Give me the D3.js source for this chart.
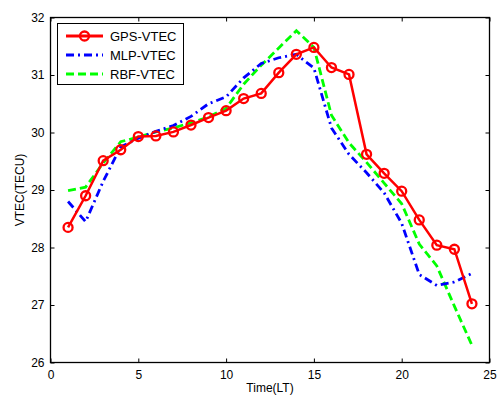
<!DOCTYPE html>
<html><head><meta charset="utf-8">
<script src="https://cdn.jsdelivr.net/npm/d3@7"></script>
<style>body{margin:0;background:#fff}svg{display:block}</style>
</head><body>
<svg id="c" width="497" height="396"></svg>
<script>
const hours = [1,2,3,4,5,6,7,8,9,10,11,12,13,14,15,16,17,18,19,20,21,22,23,24];
const gpsVtec = [28.35,28.90,29.51,29.70,29.93,29.94,30.01,30.13,30.26,30.38,30.59,30.68,31.04,31.36,31.48,31.13,31.01,29.62,29.29,28.98,28.48,28.04,27.97,27.02];
const mlpVtec = [28.80,28.45,29.15,29.75,29.90,30.02,30.12,30.28,30.50,30.62,30.95,31.20,31.30,31.36,31.12,30.08,29.62,29.30,28.95,28.42,27.53,27.34,27.40,27.55];
const rbfVtec = [28.99,29.05,29.47,29.84,29.92,30.01,30.08,30.17,30.27,30.42,30.84,31.17,31.47,31.77,31.48,30.30,29.82,29.48,29.12,28.76,28.06,27.68,26.98,26.30];
const xTicks = [0,5,10,15,20,25];
const yTicks = [26,27,28,29,30,31,32];
const seriesNames = ["GPS-VTEC","MLP-VTEC","RBF-VTEC"];

const svg = d3.select("#c");
const L=50.5, R=489.5, T=17.5, B=362.5;
const x = d3.scaleLinear().domain([0,25]).range([L,R]);
const y = d3.scaleLinear().domain([26,32]).range([B,T]);
const font = "Arial, 'Liberation Sans', sans-serif";

// axes with inward ticks
const gx = svg.append("g").attr("transform",`translate(0,${B})`)
  .call(d3.axisBottom(x).tickValues(xTicks).tickSize(-4).tickPadding(8).tickFormat(d3.format("d")));
const gxt = svg.append("g").attr("transform",`translate(0,${T})`)
  .call(d3.axisTop(x).tickValues(xTicks).tickSize(-4).tickFormat(""));
const gy = svg.append("g").attr("transform",`translate(${L},0)`)
  .call(d3.axisLeft(y).tickValues(yTicks).tickSize(-4).tickPadding(6).tickFormat(d3.format("d")));
const gyr = svg.append("g").attr("transform",`translate(${R},0)`)
  .call(d3.axisRight(y).tickValues(yTicks).tickSize(-4).tickFormat(""));
[gx,gxt,gy,gyr].forEach(g=>{
  g.select(".domain").remove();
  g.selectAll("line").attr("stroke","#000");
  g.selectAll("text").attr("font-family",font).attr("font-size",12).attr("fill","#000");
});
svg.append("rect").attr("x",L).attr("y",T).attr("width",R-L).attr("height",B-T)
  .attr("fill","none").attr("stroke","#000").attr("stroke-width",1.3);

const line = d3.line().x((d,i)=>x(hours[i])).y(d=>y(d));
const plot = svg.append("g");

plot.append("path").datum(rbfVtec).attr("d",line).attr("fill","none")
  .attr("stroke","#00ff00").attr("stroke-width",2.8).attr("stroke-dasharray","8,4");
plot.append("path").datum(mlpVtec).attr("d",line).attr("fill","none")
  .attr("stroke","#0000ff").attr("stroke-width",2.8).attr("stroke-dasharray","8,4,2,4");
plot.append("path").datum(gpsVtec).attr("d",line).attr("fill","none")
  .attr("stroke","#ff0000").attr("stroke-width",2.5);
plot.selectAll("circle.g").data(gpsVtec).join("circle")
  .attr("cx",(d,i)=>x(hours[i])).attr("cy",d=>y(d)).attr("r",4.5)
  .attr("fill","none").attr("stroke","#ff0000").attr("stroke-width",2.3);

// legend
const lg = svg.append("g");
lg.append("rect").attr("x",57.5).attr("y",23.5).attr("width",126).attr("height",61)
  .attr("fill","#fff").attr("stroke","#000").attr("stroke-width",1);
const lStyles = [
  {c:"#ff0000",dash:null,marker:true},
  {c:"#0000ff",dash:"8,4,2,4",marker:false},
  {c:"#00ff00",dash:"8,4",marker:false}
];
seriesNames.forEach((n,i)=>{
  const yy = 36 + i*19;
  lg.append("line").attr("x1",66).attr("x2",103).attr("y1",yy).attr("y2",yy)
    .attr("stroke",lStyles[i].c).attr("stroke-width",2.8)
    .attr("stroke-dasharray",lStyles[i].dash);
  if(lStyles[i].marker) lg.append("circle").attr("cx",84.5).attr("cy",yy).attr("r",4.5)
    .attr("fill","none").attr("stroke",lStyles[i].c).attr("stroke-width",2.3);
  lg.append("text").attr("x",110).attr("y",yy+4.5).attr("font-family",font)
    .attr("font-size",13).text(n);
});

svg.append("text").attr("x",(L+R)/2).attr("y",392).attr("text-anchor","middle")
  .attr("font-family",font).attr("font-size",12).text("Time(LT)");
svg.append("text").attr("transform",`translate(24,${(T+B)/2}) rotate(-90)`)
  .attr("text-anchor","middle").attr("font-family",font).attr("font-size",12).text("VTEC(TECU)");
</script>
</body></html>
